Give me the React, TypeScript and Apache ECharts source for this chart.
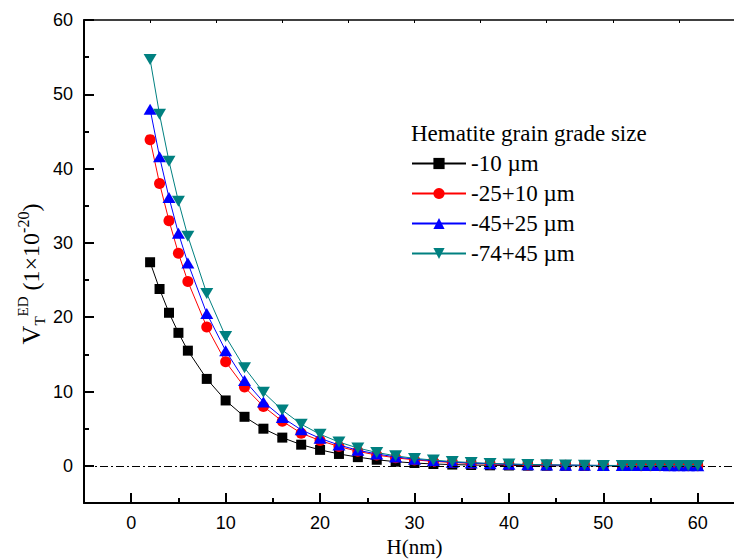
import React, { useEffect, useRef } from "react";
import * as echarts from "echarts";

const hValues = [2, 3, 4, 5, 6, 8, 10, 12, 14, 16, 18, 20, 22, 24, 26, 28, 30, 32, 34, 36, 38, 40, 42, 44, 46, 48, 50, 52, 53, 54, 55, 56, 57, 58, 59, 60];
const seriesNames = ["-10 µm", "-25+10 µm", "-45+25 µm", "-74+45 µm"];
const v10 = [27.4, 23.8, 20.6, 17.9, 15.5, 11.7, 8.8, 6.6, 5.0, 3.8, 2.85, 2.15, 1.6, 1.17, 0.82, 0.56, 0.38, 0.25, 0.17, 0.11, 0.07, 0.05, 0.03, 0.02, 0.01, 0.01, 0.0, 0.0, 0.0, 0.0, 0.0, 0.0, 0.0, 0.0, 0.0, 0.0];
const v25 = [43.9, 38.0, 33.0, 28.6, 24.8, 18.7, 14.0, 10.6, 8.0, 6.0, 4.4, 3.4, 2.6, 1.95, 1.45, 1.08, 0.8, 0.6, 0.45, 0.33, 0.25, 0.18, 0.13, 0.1, 0.07, 0.05, 0.04, 0.03, 0.03, 0.02, 0.02, 0.02, 0.01, 0.01, 0.01, 0.01];
const v45 = [48.0, 41.6, 36.1, 31.3, 27.3, 20.5, 15.5, 11.5, 8.6, 6.5, 4.85, 3.7, 2.8, 2.1, 1.6, 1.2, 0.9, 0.68, 0.5, 0.38, 0.29, 0.22, 0.16, 0.12, 0.09, 0.07, 0.05, 0.04, 0.04, 0.03, 0.03, 0.03, 0.02, 0.02, 0.02, 0.02];
const v74 = [54.7, 47.3, 41.0, 35.6, 30.9, 23.2, 17.4, 13.2, 9.9, 7.5, 5.6, 4.25, 3.2, 2.4, 1.8, 1.35, 1.0, 0.78, 0.58, 0.44, 0.33, 0.25, 0.19, 0.14, 0.11, 0.08, 0.06, 0.05, 0.05, 0.04, 0.04, 0.04, 0.03, 0.03, 0.03, 0.03];
const seriesValues = [v10, v25, v45, v74];
const seriesColors = ["#000000", "#ff0000", "#0000ff", "#008080"];
const seriesSymbols = ["rect", "circle", "triangle", "triangle"];
const symbolSizes: any[] = [10, 11, [13, 11], [13, 11]];
const symbolRotates = [0, 0, 0, 180];

const xMajorTicks = [0, 10, 20, 30, 40, 50, 60];
const xMinorTicks = [5, 15, 25, 35, 45, 55];
const yMajorTicks = [0, 10, 20, 30, 40, 50, 60];
const yMinorTicks = [5, 15, 25, 35, 45, 55];

const SERIF = "'Liberation Serif', 'Times New Roman', serif";
const SANS = "'Liberation Sans', Arial, sans-serif";

export default function App() {
  const ref = useRef<HTMLDivElement>(null);
  useEffect(() => {
    if (!ref.current) return;
    const chart = echarts.init(ref.current, undefined, { renderer: "svg" });
    const gridRect = { left: 84, right: -11, top: 20, bottom: 56, outerBoundsMode: "none" };
    const option: any = {
      animation: false,
      backgroundColor: "#ffffff",
      title: {
        text: "Hematite grain grade size",
        left: 411,
        top: 122,
        padding: 0,
        textStyle: { fontFamily: SERIF, fontSize: 23, fontWeight: "normal", color: "#000" },
      },
      legend: {
        orient: "vertical",
        left: 411,
        top: 152,
        padding: 0,
        itemWidth: 54,
        itemHeight: 14,
        itemGap: 7,
        data: seriesNames,
        textStyle: { fontFamily: SERIF, fontSize: 23, color: "#000" },
      },
      grid: [{ ...gridRect }, { ...gridRect }],
      xAxis: [
        {
          type: "value",
          gridIndex: 0,
          position: "bottom",
          min: -5,
          max: 65,
          axisLine: { show: true, onZero: false, lineStyle: { color: "#000", width: 2 } },
          axisTick: { show: true, inside: true, length: 10, customValues: xMajorTicks, lineStyle: { color: "#000", width: 2 } },
          axisLabel: { show: true, customValues: xMajorTicks, margin: 11, fontFamily: SANS, fontSize: 18, color: "#000" },
          splitLine: { show: false },
          name: "H(nm)",
          nameLocation: "middle",
          nameGap: 33,
          nameTextStyle: { fontFamily: SERIF, fontSize: 21, color: "#000" },
        },
        {
          type: "value",
          gridIndex: 0,
          position: "top",
          min: -5,
          max: 65,
          interval: 7,
          axisLine: { show: true, onZero: false, lineStyle: { color: "#000", width: 1.5 } },
          axisTick: { show: true, inside: true, length: 3, lineStyle: { color: "#000", width: 1 } },
          axisLabel: { show: false },
          splitLine: { show: false },
        },
        {
          type: "value",
          gridIndex: 1,
          position: "bottom",
          min: -5,
          max: 65,
          axisLine: { show: false, onZero: false },
          axisTick: { show: true, inside: true, length: 5, customValues: xMinorTicks, lineStyle: { color: "#000", width: 2 } },
          axisLabel: { show: false },
          splitLine: { show: false },
        },
      ],
      yAxis: [
        {
          type: "value",
          gridIndex: 0,
          position: "left",
          min: -5,
          max: 60,
          axisLine: { show: true, onZero: false, lineStyle: { color: "#000", width: 2 } },
          axisTick: { show: true, inside: true, length: 10, customValues: yMajorTicks, lineStyle: { color: "#000", width: 2 } },
          axisLabel: { show: true, customValues: yMajorTicks, margin: 11, fontFamily: SANS, fontSize: 18, color: "#000" },
          splitLine: { show: false },
        },
        {
          type: "value",
          gridIndex: 1,
          position: "left",
          min: -5,
          max: 60,
          axisLine: { show: false, onZero: false },
          axisTick: { show: true, inside: true, length: 5, customValues: yMinorTicks, lineStyle: { color: "#000", width: 2 } },
          axisLabel: { show: false },
          splitLine: { show: false },
        },
      ],
      graphic: [
        {
          type: "text",
          x: 31,
          y: 274,
          rotation: Math.PI / 2,
          style: {
            text: "{v|V}{sub|T}{sup|ED}{p| (1×10}{sup2|-20}{p|)}",
            align: "center",
            verticalAlign: "middle",
            fill: "#000",
            rich: {
              v: { fontFamily: SERIF, fontSize: 26, fill: "#000", lineHeight: 32 },
              sub: { fontFamily: SERIF, fontSize: 15, fill: "#000", verticalAlign: "bottom", lineHeight: 32 },
              sup: { fontFamily: SERIF, fontSize: 15, fill: "#000", verticalAlign: "top", lineHeight: 32 },
              p: { fontFamily: SERIF, fontSize: 24, fill: "#000", lineHeight: 32 },
              sup2: { fontFamily: SERIF, fontSize: 16, fill: "#000", verticalAlign: "top", lineHeight: 32 },
            },
          },
        },
      ],
      series: seriesNames.map((name, si) => ({
        name,
        type: "line",
        xAxisIndex: 0,
        yAxisIndex: 0,
        data: hValues.map((h, i) => [h, seriesValues[si][i]]),
        symbol: seriesSymbols[si],
        symbolSize: symbolSizes[si],
        symbolRotate: symbolRotates[si],
        showAllSymbol: true,
        color: seriesColors[si],
        lineStyle: { color: seriesColors[si], width: 1 },
        itemStyle: { color: seriesColors[si] },
        z: 2 + si,
        ...(si === 0
          ? {
              markLine: {
                silent: true,
                symbol: "none",
                label: { show: false },
                lineStyle: { color: "#000", width: 1, type: [8, 3, 2, 3] },
                data: [{ yAxis: 0 }],
              },
            }
          : {}),
      })),
    };
    chart.setOption(option);
    return () => chart.dispose();
  }, []);
  return <div ref={ref} style={{ position: "absolute", left: 0, top: 0, width: 734, height: 559 }} />;
}
